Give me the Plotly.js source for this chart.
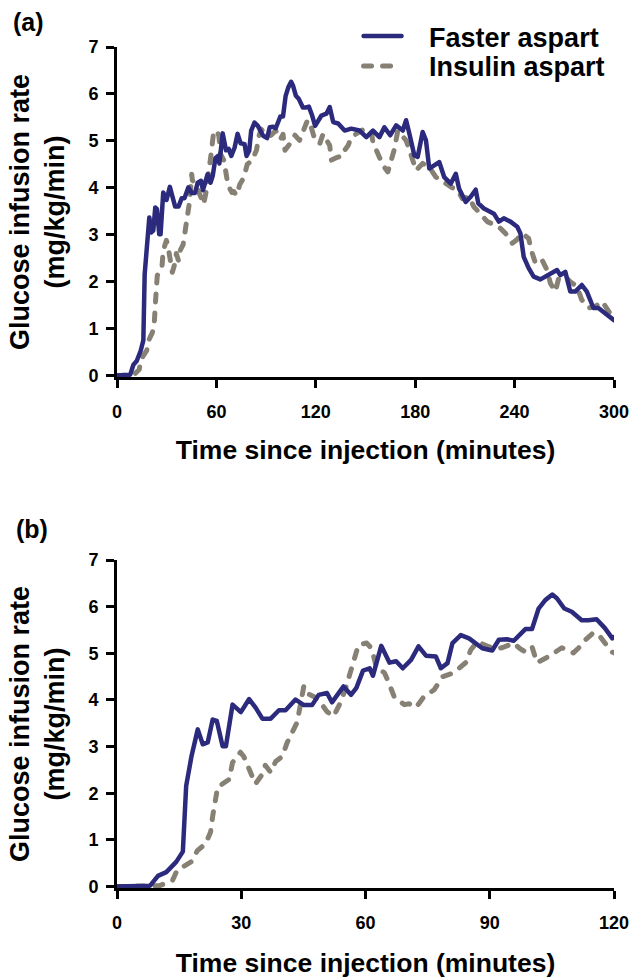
<!DOCTYPE html>
<html>
<head>
<meta charset="utf-8">
<script src="https://cdn.plot.ly/plotly-3.0.1.min.js"></script>
<style>
html, body { margin: 0; padding: 0; background: #fff; }
#chart { width: 630px; height: 979px; }
path.js-line { stroke-linecap: round; stroke-linejoin: round; }
</style>
</head>
<body>
<div id="chart"></div>
<script>
// Faster aspart: time (min) and glucose infusion rate (mg/kg/min)
var fasterTime = [0, 4, 8, 9.9, 11.9, 14.3, 15.9, 16.7, 18, 19.5, 20.7, 21.9, 23.1, 24.1, 25.5, 26.3, 27.9, 29.9,
  31.9, 33.5, 35.1, 37.1, 39.1, 40.7, 43.1, 45.1, 47.1, 48.7, 50.7, 51.9, 53.1, 54.7, 56.5, 57.8, 59.4, 61.0,
  61.8, 63.8, 65.8, 67.4, 69.0, 71.0, 72.8, 74.6, 77.0, 78.2, 79.8, 81.0, 83.0, 85.0, 88.2, 90.6, 92.2, 94.2,
  95.8, 98.6, 100.2, 101.8, 103.4, 105.1, 106.2, 108.0, 109.8, 112.2, 113.8, 115.8, 117.8, 119.6, 123.4, 126.4,
  128.4, 130.5, 133.5, 137.4, 141.4, 146.4, 150.5, 154.5, 158.4, 161.4, 164.9, 168.5, 172.5, 174.5, 176.5,
  179.5, 181.5, 184.5, 186.5, 188.5, 191.5, 194.5, 197.5, 201.5, 204.5, 206.5, 210.5, 213.5, 216.5, 218.1,
  221.5, 225.5, 227.5, 230.5, 233.5, 237.5, 241.6, 243.5, 245.5, 248.5, 251.5, 255.6, 258.6, 261.6, 265.6,
  267.6, 270.6, 273.6, 276.6, 280.6, 283.6, 287.6, 290.6, 294.6, 300];
var fasterRate = [0, 0, 0.02, 0.23, 0.31, 0.53, 0.75, 2.16, 2.8, 3.37, 3.05, 3.09, 3.58, 3.55, 3.01, 3.01, 3.90, 3.74,
  4.02, 3.83, 3.60, 3.60, 3.78, 3.78, 4.01, 3.89, 3.89, 4.11, 4.15, 3.95, 4.08, 4.29, 4.11, 4.26, 4.63, 4.68,
  4.52, 5.16, 4.80, 4.83, 4.68, 4.86, 5.15, 4.95, 4.93, 4.68, 4.79, 5.22, 5.39, 5.32, 5.11, 5.06, 5.29, 5.30,
  5.27, 5.52, 5.52, 5.96, 6.14, 6.26, 6.18, 5.96, 5.89, 5.71, 5.71, 5.73, 5.54, 5.32, 5.54, 5.58,
  5.72, 5.40, 5.37, 5.22, 5.26, 5.22, 5.08, 5.22, 5.08, 5.29, 5.12, 5.33, 5.22, 5.44, 5.15,
  4.69, 4.66, 5.19, 5.01, 4.41, 4.48, 4.55, 4.23, 4.09, 4.30, 3.98, 3.70, 3.81, 3.96, 3.67,
  3.56, 3.49, 3.45, 3.28, 3.35, 3.28, 3.17, 3.03, 2.53, 2.29, 2.11, 2.05, 2.11, 2.18, 2.25,
  2.14, 2.21, 1.79, 1.79, 1.93, 1.79, 1.44, 1.44, 1.33, 1.18];

// Insulin aspart: time (min) and glucose infusion rate (mg/kg/min)
var aspartTime = [0, 8.7, 10.3, 13.4, 14.5, 17.9, 19.4, 21.4, 22.6, 23.1, 23.8, 24.3, 27.1, 27.9, 29.8, 30.6, 31.9,
  33.4, 35.1, 35.8, 37.1, 38.3, 39.9, 41.1, 43.5, 43.9, 45.1, 45.5, 47.6, 49.5, 50.7, 52.3, 53.7, 55.1, 56.7,
  58.3, 60.3, 61.5, 62.6, 64.6, 65.8, 67.0, 69.4, 70.5, 72.2, 74.1, 76.6, 78.6, 81.3, 84.2, 85.4, 87.0, 89.8,
  91.5, 93.0, 95.8, 97.3, 98.6, 100.2, 101.4, 104.2, 106, 107.4, 110.2, 111.5, 112.6, 115.0, 116.3, 117.3,
  119.4, 122.4, 124.4, 128.4, 129.4, 133, 136.5, 137.4, 139.5, 141.4, 147.4, 150.5, 153.5, 154.5, 157, 159.5,
  160.5, 163.5, 165.5, 167.5, 169.5, 174.5, 177.5, 180.5, 184.5, 188.5, 192.5, 195.5, 199.5, 202.5, 205.5,
  208.5, 212.5, 215.5, 217.5, 220.5, 223.5, 230.5, 234.5, 238.6, 241.5, 244.6, 248.5, 250, 252.6, 256.6,
  259.6, 261.6, 264.6, 266.6, 270.6, 273.6, 277.6, 280.6, 284.6, 288.6, 292.6, 293.6, 297.6, 300];
var aspartRate = [0, 0, 0.02, 0.13, 0.35, 0.53, 0.77, 0.92, 1.17, 1.51, 1.81, 2.13, 2.30, 2.66, 2.88, 2.79, 2.52,
  2.20, 2.41, 2.60, 2.45, 2.68, 2.79, 3.09, 3.52, 3.73, 4.29, 4.16, 4.07, 3.90, 3.75, 3.65, 3.90, 4.22, 4.69,
  5.18, 5.22, 5.10, 4.71, 4.58, 4.33, 4.05, 3.90, 3.92, 3.84, 4.07, 4.22, 4.50, 4.58, 4.80, 5.07, 5.25, 5.14,
  5.10, 5.12, 5.22, 5.10, 5.03, 5.14, 4.80, 4.93, 5.05, 5.12, 5.01, 5.12, 5.25, 5.44, 5.40, 5.29,
  5.03, 4.94, 5.15, 4.90, 4.59, 4.65, 4.69, 4.80, 4.90, 5.08, 5.22, 5.26, 5.19, 4.97, 4.75, 4.55,
  4.48, 4.34, 4.59, 4.83, 5.22, 5.01, 4.70, 4.37, 4.52, 4.44, 4.23, 4.16, 4.05, 4.00, 3.95,
  3.77, 3.81, 3.59, 3.52, 3.38, 3.28, 3.17, 3.03, 2.82, 2.90, 3.03, 2.92, 2.68, 2.39, 2.46,
  2.25, 1.97, 1.79, 2.07, 2.11, 2.00, 1.90, 1.61, 1.44, 1.47, 1.58, 1.54, 1.33, 1.20];

var seriesNames = ['Faster aspart', 'Insulin aspart'];
var panelLabels = ['(a)', '(b)'];
var xTicksA = [0, 60, 120, 180, 240, 300];
var xTicksB = [0, 30, 60, 90, 120];
var yTicks = [0, 1, 2, 3, 4, 5, 6, 7];

var navy = '#2b2a7c';
var taupe = '#878074';
var FONT = 'Liberation Sans, Arial, Helvetica, sans-serif';
var GAP = '\u00a0\u00a0\u00a0';

function fasterTrace(xa, ya, show) {
  return { x: fasterTime, y: fasterRate, xaxis: xa, yaxis: ya, type: 'scatter', mode: 'lines',
    name: GAP + seriesNames[0], showlegend: show, legend: 'legend',
    line: { color: navy, width: 4.5 } };
}
function aspartTrace(xa, ya, show) {
  return { x: aspartTime, y: aspartRate, xaxis: xa, yaxis: ya, type: 'scatter', mode: 'lines',
    name: GAP + seriesNames[1], showlegend: show, legend: 'legend2',
    line: { color: taupe, width: 5, dash: '8px,11px' } };
}

var data = [
  aspartTrace('x', 'y', true),
  fasterTrace('x', 'y', true),
  aspartTrace('x2', 'y2', false),
  fasterTrace('x2', 'y2', false)
];

function xAxis(anchor, range, ticks, standoff) {
  return {
    anchor: anchor, domain: [0, 1], range: range, tickvals: ticks,
    showline: true, linewidth: 3, linecolor: '#000', mirror: false,
    ticks: 'outside', ticklen: 8, tickwidth: 3, tickcolor: '#000',
    tickfont: { size: 18, family: FONT, weight: 'bold', color: '#000' },
    ticklabelstandoff: 8, ticklabeloverflow: 'allow',
    showgrid: false, zeroline: false, layer: 'below traces', automargin: false,
    title: { text: 'Time since injection (minutes)', standoff: standoff,
      font: { size: 26.5, family: FONT, weight: 'bold', color: '#000' } }
  };
}
function yAxis(anchor, domain) {
  return {
    anchor: anchor, domain: domain, range: [-0.03, 7], tickvals: yTicks,
    showline: true, linewidth: 3, linecolor: '#000',
    ticks: 'outside', ticklen: 8, tickwidth: 3, tickcolor: '#000',
    tickfont: { size: 18, family: FONT, weight: 'bold', color: '#000' },
    ticklabelstandoff: 4, ticklabeloverflow: 'allow',
    showgrid: false, zeroline: false, layer: 'below traces', automargin: false,
    title: { text: 'Glucose infusion rate<br>(mg/kg/min)', standoff: 16,
      font: { size: 27, family: FONT, weight: 'bold', color: '#000' } }
  };
}

function legendBox(yPos) {
  return {
    x: 0.486, y: yPos, xanchor: 'left', yanchor: 'middle',
    bgcolor: 'rgba(0,0,0,0)', borderwidth: 0,
    font: { size: 27, family: FONT, weight: 'bold', color: '#000' },
    itemwidth: 38
  };
}

var layout = {
  width: 630, height: 979,
  margin: { l: 117, r: 16, t: 47, b: 91, pad: 0 },
  paper_bgcolor: '#fff', plot_bgcolor: '#fff',
  font: { family: FONT, size: 18, color: '#000', weight: 'bold' },
  xaxis: xAxis('y', [0, 300], xTicksA, 20),
  yaxis: yAxis('x', [0.6076, 1]),
  xaxis2: xAxis('y2', [0, 120], xTicksB, 22),
  yaxis2: yAxis('x2', [0, 0.39]),
  showlegend: true,
  legend: legendBox(1.0125),
  legend2: legendBox(0.977),
  annotations: [
    { text: panelLabels[0], xref: 'paper', yref: 'paper', x: -0.213, y: 1.0297,
      xanchor: 'left', yanchor: 'middle', showarrow: false,
      font: { size: 25, family: FONT, weight: 'bold', color: '#000' } },
    { text: panelLabels[1], xref: 'paper', yref: 'paper', x: -0.207, y: 0.4269,
      xanchor: 'left', yanchor: 'middle', showarrow: false,
      font: { size: 25, family: FONT, weight: 'bold', color: '#000' } }
  ]
};

Plotly.newPlot('chart', data, layout, { displayModeBar: false, staticPlot: true });
</script>
</body>
</html>
